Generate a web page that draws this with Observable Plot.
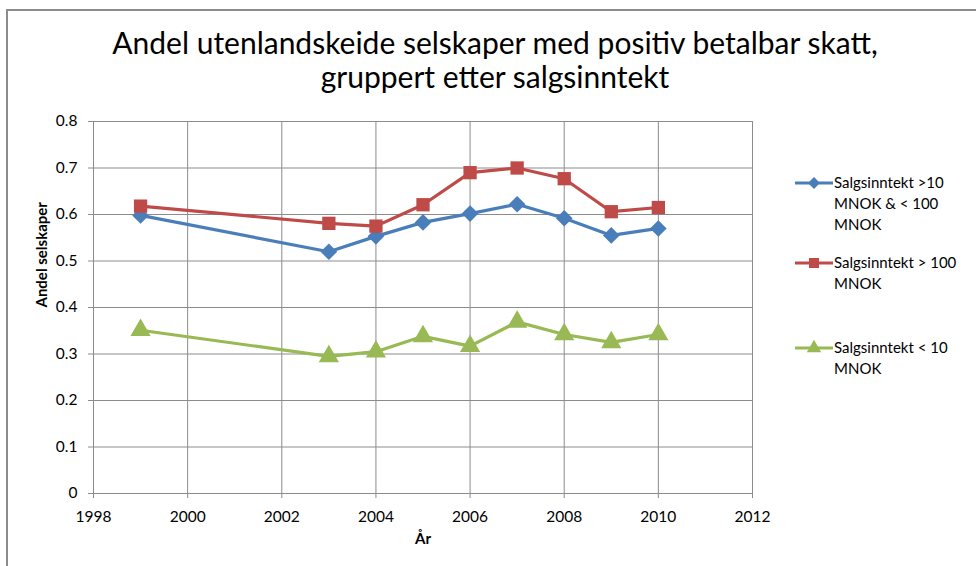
<!DOCTYPE html>
<html>
<head>
<meta charset="utf-8">
<script src="https://cdn.jsdelivr.net/npm/d3@7"></script>
<script src="https://cdn.jsdelivr.net/npm/@observablehq/plot@0.6"></script>
<style>
  html, body { margin: 0; padding: 0; background: #fff; }
  #wrap { position: relative; width: 976px; height: 566px; overflow: hidden; font-family: Lato, "Open Sans", sans-serif; }
  #border { position: absolute; left: 6px; top: 9px; width: 1000px; height: 600px; border: 2px solid #8c8c8c; box-sizing: border-box; }
  #title { position: absolute; left: 0; width: 990px; top: 25px; text-align: center; font-size: 30px; line-height: 34px; color: #000; }
  #legend { position: absolute; left: 795px; top: 172px; font-size: 15px; line-height: 21px; color: #000; }
  .item { position: absolute; left: 0; display: flex; align-items: flex-start; white-space: nowrap; }
  .item svg { flex: none; }
  .item span { margin-left: 1px; }
  #chart { position: absolute; left: 0; top: 0; }
</style>
</head>
<body>
<div id="wrap">
  <div id="border"></div>
  <div id="title">Andel utenlandskeide selskaper med positiv betalbar skatt,<br>gruppert etter salgsinntekt</div>
  <div id="chart"></div>
  <div id="legend"></div>
</div>
<script>
const years = [1999, 2003, 2004, 2005, 2006, 2007, 2008, 2009, 2010];
const seriesNames = [
  "Salgsinntekt >10 MNOK & < 100 MNOK",
  "Salgsinntekt > 100 MNOK",
  "Salgsinntekt < 10 MNOK"
];
const midValues   = [0.598, 0.520, 0.553, 0.583, 0.602, 0.622, 0.592, 0.555, 0.570];
const largeValues = [0.618, 0.581, 0.575, 0.621, 0.690, 0.700, 0.677, 0.606, 0.615];
const smallValues = [0.351, 0.295, 0.305, 0.338, 0.317, 0.369, 0.342, 0.325, 0.342];
const xTicks = [1998, 2000, 2002, 2004, 2006, 2008, 2010, 2012];
const yTicks = [0, 0.1, 0.2, 0.3, 0.4, 0.5, 0.6, 0.7, 0.8];
const colors = ["#4A7EBB", "#BE4B48", "#98B954"];
const symbols = ["diamond2", "square", "triangle"];
const legendLines = [
  ["Salgsinntekt >10", "MNOK & < 100", "MNOK"],
  ["Salgsinntekt > 100", "MNOK"],
  ["Salgsinntekt < 10", "MNOK"]
];

const allValues = [midValues, largeValues, smallValues];
const data = [];
allValues.forEach((vals, si) => {
  vals.forEach((v, i) => data.push({ series: seriesNames[si], year: years[i], value: v }));
});

const chart = Plot.plot({
  width: 976,
  height: 566,
  marginLeft: 93,
  marginRight: 224,
  marginTop: 121,
  marginBottom: 73,
  style: { fontFamily: "Lato, 'Open Sans', sans-serif", fontSize: "15px", color: "#000", background: "transparent" },
  x: { domain: [1998, 2012], label: null },
  y: { domain: [0, 0.8], label: null },
  color: { domain: seriesNames, range: colors },
  symbol: { domain: seriesNames, range: symbols },
  marks: [
    Plot.gridX(xTicks, { stroke: "#8c8c8c", strokeOpacity: 1, strokeWidth: 1 }),
    Plot.gridY(yTicks, { stroke: "#8c8c8c", strokeOpacity: 1, strokeWidth: 1 }),
    Plot.axisX({ ticks: xTicks, tickFormat: d => String(d), tickSize: 5, tickPadding: 12, stroke: "#8c8c8c", label: null, fontSize: 15.5 }),
    Plot.axisY({ ticks: yTicks, tickFormat: d => d === 0 ? "0" : d3.format(".1f")(d), tickSize: 5, tickPadding: 11, stroke: "#8c8c8c", label: null, fontSize: 15.5 }),
    Plot.ruleX([1998], { stroke: "#8c8c8c" }),
    Plot.ruleY([0], { stroke: "#8c8c8c" }),
    Plot.line(data, { x: "year", y: "value", z: "series", stroke: "series", strokeWidth: 3.2 }),
    Plot.dot(data, { x: "year", y: "value", symbol: "series", fill: "series", stroke: "series", r: 7.5, strokeWidth: 0 }),
    Plot.text(["År"], { frameAnchor: "bottom", dy: 50, fontWeight: "bold", fontSize: 15 }),
    Plot.text(["Andel selskaper"], { frameAnchor: "left", dx: -51, rotate: -90, fontWeight: "bold", fontSize: 15 })
  ]
});
document.getElementById("chart").appendChild(chart);

// legend
const legend = document.getElementById("legend");
const tops = [0, 80, 165];
seriesNames.forEach((name, i) => {
  const item = document.createElement("div");
  item.className = "item";
  item.style.top = tops[i] + "px";
  const sw = d3.create("svg").attr("width", 38).attr("height", 21);
  sw.append("line").attr("x1", 0).attr("x2", 38).attr("y1", 11).attr("y2", 11).attr("stroke", colors[i]).attr("stroke-width", 3);
  const sym = d3.symbol().type(
    i === 0 ? d3.symbolDiamond2 : i === 1 ? d3.symbolSquare : d3.symbolTriangle
  ).size(i === 1 ? 100 : 90);
  sw.append("path").attr("d", sym()).attr("transform", "translate(19,11)").attr("fill", colors[i]);
  item.appendChild(sw.node());
  const span = document.createElement("span");
  span.innerHTML = legendLines[i].join("<br>");
  item.appendChild(span);
  legend.appendChild(item);
});
</script>
</body>
</html>
